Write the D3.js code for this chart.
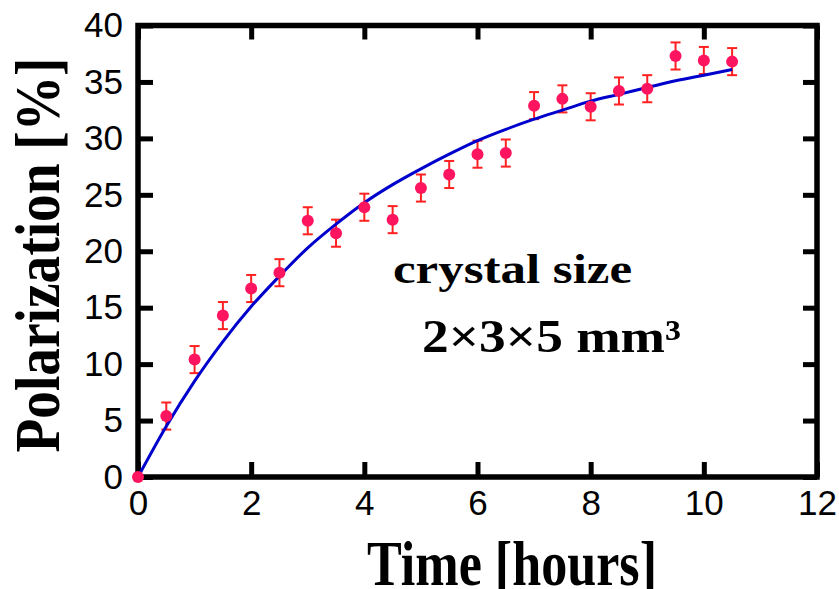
<!DOCTYPE html>
<html>
<head>
<meta charset="utf-8">
<script src="https://cdn.jsdelivr.net/npm/d3@7"></script>
<style>
  body { margin: 0; background: white; }
</style>
</head>
<body>
<div id="chart"></div>
<script>
// measured points (hours, polarization %, error)
const hours = [0, 0.5, 1, 1.5, 2, 2.5, 3, 3.5, 4, 4.5, 5, 5.5, 6, 6.5, 7, 7.5, 8, 8.5, 9, 9.5, 10, 10.5];
const polarization = [0, 5.4, 10.4, 14.3, 16.7, 18.1, 22.7, 21.6, 23.9, 22.8, 25.6, 26.8, 28.6, 28.7,
                      32.9, 33.5, 32.8, 34.2, 34.4, 37.3, 36.9, 36.8];
const errors = [0, 1.2, 1.2, 1.2, 1.2, 1.2, 1.2, 1.2, 1.2, 1.2, 1.2, 1.2, 1.2, 1.2,
                1.2, 1.2, 1.2, 1.2, 1.2, 1.2, 1.2, 1.2];

// fitted curve at the same times
const fitHours = [0, 0.5, 1, 1.5, 2, 2.5, 3, 3.5, 4, 4.5, 5, 5.5, 6, 6.5, 7, 7.5, 8, 8.5, 9, 9.5, 10, 10.5];
const fitValues = [0, 4.5, 8.5, 12.0, 15.1, 17.8, 20.3, 22.4, 24.3, 25.9, 27.3, 28.6, 29.8, 30.8,
                   31.7, 32.5, 33.3, 33.9, 34.5, 35.1, 35.6, 36.1];

const xTicks = [0, 2, 4, 6, 8, 10, 12];
const yTicks = [0, 5, 10, 15, 20, 25, 30, 35, 40];

let width = 839,
    height = 589;

let margin = {top: 25.5, bottom: 112, left: 138, right: 22};

let svg = d3.select('#chart')
  .append('svg')
  .attr('width', width)
  .attr('height', height)
  .style('background', 'white');

let xScale = d3.scaleLinear()
  .domain([0, 12])
  .range([margin.left, width - margin.right]);

let yScale = d3.scaleLinear()
  .domain([0, 40])
  .range([height - margin.bottom, margin.top]);

const x0 = xScale(0), x1 = xScale(12), y0 = yScale(0), y1 = yScale(40);

// axes with inward ticks
function styleAxis(g) {
  g.select('.domain').remove();
  g.selectAll('.tick line').attr('stroke', 'black').attr('stroke-width', 5);
  g.selectAll('.tick text')
    .attr('fill', 'black')
    .style('font-family', '"Liberation Sans", Arial, sans-serif')
    .style('font-size', '35px');
}

svg.append('g')
  .attr('transform', `translate(0, ${y0})`)
  .call(d3.axisBottom(xScale).tickValues(xTicks).tickSize(-15).tickPadding(13))
  .call(styleAxis);

svg.append('g')
  .attr('transform', `translate(0, ${y1})`)
  .call(d3.axisTop(xScale).tickValues(xTicks).tickSize(-14).tickFormat(''))
  .call(styleAxis);

svg.append('g')
  .attr('transform', `translate(${x0}, 0)`)
  .call(d3.axisLeft(yScale).tickValues(yTicks).tickSize(-15).tickPadding(15))
  .call(styleAxis);

svg.append('g')
  .attr('transform', `translate(${x1}, 0)`)
  .call(d3.axisRight(yScale).tickValues(yTicks).tickSize(-14).tickFormat(''))
  .call(styleAxis);

// frame
svg.append('rect')
  .attr('x', x0)
  .attr('y', y1)
  .attr('width', x1 - x0)
  .attr('height', y0 - y1)
  .attr('fill', 'none')
  .attr('stroke', 'black')
  .attr('stroke-width', 5.5);

const points = hours.map((h, i) => ({h: h, p: polarization[i], e: errors[i]}));

// error bars
const bars = svg.append('g')
  .attr('stroke', '#ff2020')
  .attr('stroke-width', 2);

points.filter(d => d.e > 0).forEach(d => {
  const cx = xScale(d.h);
  bars.append('line')
    .attr('x1', cx).attr('x2', cx)
    .attr('y1', yScale(d.p - d.e)).attr('y2', yScale(d.p + d.e));
  bars.append('line')
    .attr('x1', cx - 5).attr('x2', cx + 5)
    .attr('y1', yScale(d.p + d.e)).attr('y2', yScale(d.p + d.e));
  bars.append('line')
    .attr('x1', cx - 5).attr('x2', cx + 5)
    .attr('y1', yScale(d.p - d.e)).attr('y2', yScale(d.p - d.e));
});

// fit curve
let line = d3.line()
  .x((d, i) => xScale(fitHours[i]))
  .y(d => yScale(d))
  .curve(d3.curveMonotoneX);

svg.append('path')
  .datum(fitValues)
  .attr('d', line)
  .attr('fill', 'none')
  .attr('stroke', '#0000cc')
  .attr('stroke-width', 3);

// points
svg.selectAll('circle.pt')
  .data(points)
  .enter()
  .append('circle')
  .attr('class', 'pt')
  .attr('cx', d => xScale(d.h))
  .attr('cy', d => yScale(d.p))
  .attr('r', 6)
  .attr('fill', '#ff1460');

// labels
const serif = '"Liberation Serif", "Times New Roman", serif';

svg.append('text')
  .attr('x', 367)
  .attr('y', 585)
  .attr('textLength', 290)
  .attr('lengthAdjust', 'spacingAndGlyphs')
  .style('font-family', serif)
  .style('font-weight', 'bold')
  .style('font-size', '63px')
  .text('Time [hours]');

svg.append('text')
  .attr('transform', 'translate(59, 255) rotate(-90)')
  .attr('text-anchor', 'middle')
  .attr('textLength', 395)
  .attr('lengthAdjust', 'spacingAndGlyphs')
  .style('font-family', serif)
  .style('font-weight', 'bold')
  .style('font-size', '64px')
  .text('Polarization [%]');

svg.append('text')
  .attr('x', 393)
  .attr('y', 283)
  .attr('textLength', 239)
  .attr('lengthAdjust', 'spacingAndGlyphs')
  .style('font-family', serif)
  .style('font-weight', 'bold')
  .style('font-size', '43px')
  .text('crystal size');

svg.append('text')
  .attr('x', 422)
  .attr('y', 352)
  .attr('textLength', 259)
  .attr('lengthAdjust', 'spacingAndGlyphs')
  .style('font-family', serif)
  .style('font-weight', 'bold')
  .style('font-size', '47px')
  .text('2×3×5 mm³');
</script>
</body>
</html>
